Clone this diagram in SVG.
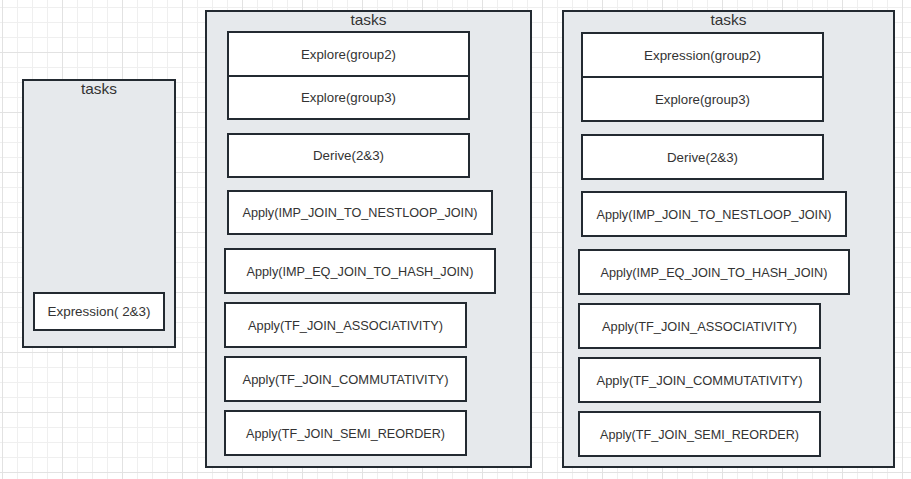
<svg xmlns="http://www.w3.org/2000/svg" width="911" height="479" viewBox="0 0 911 479">
  <defs>
    <pattern id="grid" patternUnits="userSpaceOnUse" x="2" y="-8" width="60" height="60">
      <path d="M15.5 0V60M30.5 0V60M45.5 0V60M0 15.5H60M0 30.5H60M0 45.5H60" stroke="#efefef" stroke-width="1" fill="none"/>
      <path d="M0.5 0V60M0 0.5H60" stroke="#e2e2e2" stroke-width="1" fill="none"/>
    </pattern>
  </defs>
  <style>
    .container { fill: #e6e9ec; stroke: #232a31; stroke-width: 2; }
    .task { fill: #ffffff; stroke: #232a31; stroke-width: 2; }
    .title { font-family: "Liberation Sans", Arial, sans-serif; font-size: 15px; fill: #333333; text-anchor: middle; }
    .label { font-family: "Liberation Sans", Arial, sans-serif; font-size: 13px; fill: #333333; text-anchor: middle; }
  </style>
  <rect x="0" y="0" width="911" height="479" fill="#ffffff"/>
  <rect x="0" y="0" width="911" height="479" fill="url(#grid)"/>

  <g id="tasks-1">
    <rect class="container" x="23" y="80" width="152" height="267"/>
    <text class="title" x="99" y="94" textLength="36" lengthAdjust="spacingAndGlyphs">tasks</text>
    <g id="t1-expression">
      <rect class="task" x="34" y="293" width="130" height="37"/>
      <text class="label" x="99" y="316" textLength="103" lengthAdjust="spacingAndGlyphs">Expression( 2&amp;3)</text>
    </g>
  </g>

  <g id="tasks-2">
    <rect class="container" x="206" y="11" width="325" height="456"/>
    <text class="title" x="368.5" y="25" textLength="36" lengthAdjust="spacingAndGlyphs">tasks</text>
    <g id="t2-explore2">
      <rect class="task" x="228" y="32" width="241" height="44"/>
      <text class="label" x="348.5" y="58.5" textLength="95" lengthAdjust="spacingAndGlyphs">Explore(group2)</text>
    </g>
    <g id="t2-explore3">
      <rect class="task" x="228" y="76" width="241" height="43"/>
      <text class="label" x="348.5" y="102" textLength="95" lengthAdjust="spacingAndGlyphs">Explore(group3)</text>
    </g>
    <g id="t2-derive">
      <rect class="task" x="228" y="134" width="241" height="43"/>
      <text class="label" x="348.5" y="160" textLength="71" lengthAdjust="spacingAndGlyphs">Derive(2&amp;3)</text>
    </g>
    <g id="t2-nestloop">
      <rect class="task" x="228" y="191" width="264" height="43"/>
      <text class="label" x="360" y="217" textLength="235" lengthAdjust="spacingAndGlyphs">Apply(IMP_JOIN_TO_NESTLOOP_JOIN)</text>
    </g>
    <g id="t2-hash">
      <rect class="task" x="225" y="249" width="270" height="44"/>
      <text class="label" x="360" y="275.5" textLength="227" lengthAdjust="spacingAndGlyphs">Apply(IMP_EQ_JOIN_TO_HASH_JOIN)</text>
    </g>
    <g id="t2-assoc">
      <rect class="task" x="225" y="303" width="241" height="44"/>
      <text class="label" x="345.5" y="329.5" textLength="195" lengthAdjust="spacingAndGlyphs">Apply(TF_JOIN_ASSOCIATIVITY)</text>
    </g>
    <g id="t2-commut">
      <rect class="task" x="225" y="357" width="241" height="44"/>
      <text class="label" x="345.5" y="383.5" textLength="206" lengthAdjust="spacingAndGlyphs">Apply(TF_JOIN_COMMUTATIVITY)</text>
    </g>
    <g id="t2-semi">
      <rect class="task" x="225" y="411" width="241" height="44"/>
      <text class="label" x="345.5" y="437.5" textLength="199" lengthAdjust="spacingAndGlyphs">Apply(TF_JOIN_SEMI_REORDER)</text>
    </g>
  </g>

  <g id="tasks-3">
    <rect class="container" x="563" y="11" width="331" height="456"/>
    <text class="title" x="728.5" y="25" textLength="36" lengthAdjust="spacingAndGlyphs">tasks</text>
    <g id="t3-expression2">
      <rect class="task" x="582" y="33" width="241" height="44"/>
      <text class="label" x="702.5" y="59.5" textLength="117" lengthAdjust="spacingAndGlyphs">Expression(group2)</text>
    </g>
    <g id="t3-explore3">
      <rect class="task" x="582" y="77" width="241" height="44"/>
      <text class="label" x="702.5" y="103.5" textLength="95" lengthAdjust="spacingAndGlyphs">Explore(group3)</text>
    </g>
    <g id="t3-derive">
      <rect class="task" x="582" y="135" width="241" height="44"/>
      <text class="label" x="702.5" y="161.5" textLength="71" lengthAdjust="spacingAndGlyphs">Derive(2&amp;3)</text>
    </g>
    <g id="t3-nestloop">
      <rect class="task" x="582" y="192" width="264" height="44"/>
      <text class="label" x="714" y="218.5" textLength="235" lengthAdjust="spacingAndGlyphs">Apply(IMP_JOIN_TO_NESTLOOP_JOIN)</text>
    </g>
    <g id="t3-hash">
      <rect class="task" x="579" y="250" width="270" height="44"/>
      <text class="label" x="714" y="276.5" textLength="227" lengthAdjust="spacingAndGlyphs">Apply(IMP_EQ_JOIN_TO_HASH_JOIN)</text>
    </g>
    <g id="t3-assoc">
      <rect class="task" x="579" y="304" width="241" height="44"/>
      <text class="label" x="699.5" y="330.5" textLength="195" lengthAdjust="spacingAndGlyphs">Apply(TF_JOIN_ASSOCIATIVITY)</text>
    </g>
    <g id="t3-commut">
      <rect class="task" x="579" y="358" width="241" height="44"/>
      <text class="label" x="699.5" y="384.5" textLength="206" lengthAdjust="spacingAndGlyphs">Apply(TF_JOIN_COMMUTATIVITY)</text>
    </g>
    <g id="t3-semi">
      <rect class="task" x="579" y="412" width="241" height="44"/>
      <text class="label" x="699.5" y="438.5" textLength="199" lengthAdjust="spacingAndGlyphs">Apply(TF_JOIN_SEMI_REORDER)</text>
    </g>
  </g>

  <g id="connectors"></g>
</svg>
